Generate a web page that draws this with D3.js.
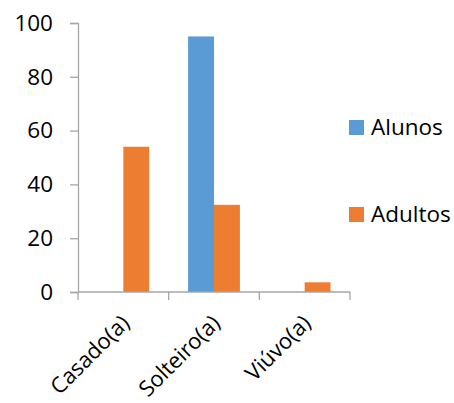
<!DOCTYPE html>
<html>
<head>
<meta charset="utf-8">
<script src="https://cdn.jsdelivr.net/npm/d3@7/dist/d3.min.js"></script>
<style>
  html, body { margin: 0; padding: 0; background: #fff; }
  svg { display: block; }
  text { font-family: "Open Sans", "Liberation Sans", sans-serif; fill: #000; }
</style>
</head>
<body>
<svg id="chart" width="454" height="403"></svg>
<script>
// Estado civil por grupo
const categories = ["Casado(a)", "Solteiro(a)", "Viúvo(a)"];
const seriesNames = ["Alunos", "Adultos"];
const alunos = [0, 95, 0];
const adultos = [54, 32.4, 3.6];
const yTicks = [0, 20, 40, 60, 80, 100];

const colors = { Alunos: "#5b9bd5", Adultos: "#ed7d31" };
const axisColor = "#a6a6a6";
const fontSize = 22.5;
const catFontSize = 22;

const svg = d3.select("#chart");
const plot = { left: 78, right: 350, top: 23, bottom: 292 };

const x = d3.scaleBand().domain(categories).range([plot.left, plot.right]).padding(0);
const x1 = d3.scaleBand().domain(seriesNames).range([0, x.bandwidth()])
  .paddingInner(0).paddingOuter(0.75);
const y = d3.scaleLinear().domain([0, 100]).range([plot.bottom, plot.top]);

const rows = categories.map((c, i) => ({ cat: c, Alunos: alunos[i], Adultos: adultos[i] }));

// Bars
const groups = svg.append("g").selectAll("g").data(rows).join("g")
  .attr("transform", d => `translate(${x(d.cat)},0)`);
groups.selectAll("rect")
  .data(d => seriesNames.map(s => ({ s, v: d[s] })).filter(e => e.v > 0))
  .join("rect")
  .attr("x", e => x1(e.s))
  .attr("width", x1.bandwidth())
  .attr("y", e => y(e.v))
  .attr("height", e => y(0) - y(e.v))
  .attr("fill", e => colors[e.s]);

// Y axis
const yAxis = svg.append("g")
  .attr("transform", `translate(${plot.left},0)`)
  .call(d3.axisLeft(y).tickValues(yTicks).tickSize(8).tickPadding(17).tickFormat(d3.format("d")));
yAxis.select(".domain").attr("stroke", axisColor).attr("stroke-width", 1.3);
yAxis.selectAll(".tick line").attr("stroke", axisColor).attr("stroke-width", 1.3);
yAxis.selectAll(".tick text")
  .style("font-family", "'Open Sans', 'Liberation Sans', sans-serif")
  .style("font-size", fontSize + "px").attr("fill", "#000");

// X axis: line with ticks at category boundaries
const xAxis = svg.append("g");
xAxis.append("line")
  .attr("x1", plot.left).attr("x2", plot.right)
  .attr("y1", y(0)).attr("y2", y(0))
  .attr("stroke", axisColor).attr("stroke-width", 1.3);
const boundaries = categories.map(c => x(c)).concat([x(categories[categories.length - 1]) + x.bandwidth()]);
xAxis.selectAll("line.tick").data(boundaries).join("line")
  .attr("class", "tick")
  .attr("x1", d => d).attr("x2", d => d)
  .attr("y1", y(0)).attr("y2", y(0) + 8)
  .attr("stroke", axisColor).attr("stroke-width", 1.3);

// Rotated category labels
xAxis.selectAll("text").data(categories).join("text")
  .attr("transform", c => `translate(${x(c) + x.bandwidth() / 2 + 2},${y(0) + 27}) rotate(-45)`)
  .attr("text-anchor", "end")
  .attr("dy", "0.35em")
  .style("font-size", catFontSize + "px")
  .text(c => c);

// Legend
const legendY = { Alunos: 127.5, Adultos: 214.5 };
const legend = svg.append("g").selectAll("g").data(seriesNames).join("g")
  .attr("transform", s => `translate(349,${legendY[s]})`);
legend.append("rect")
  .attr("x", 0).attr("y", -7.5).attr("width", 15).attr("height", 15)
  .attr("fill", s => colors[s]);
legend.append("text")
  .attr("x", 22).attr("y", 0).attr("dy", "0.35em")
  .style("font-size", fontSize + "px")
  .text(s => s);
</script>
</body>
</html>
